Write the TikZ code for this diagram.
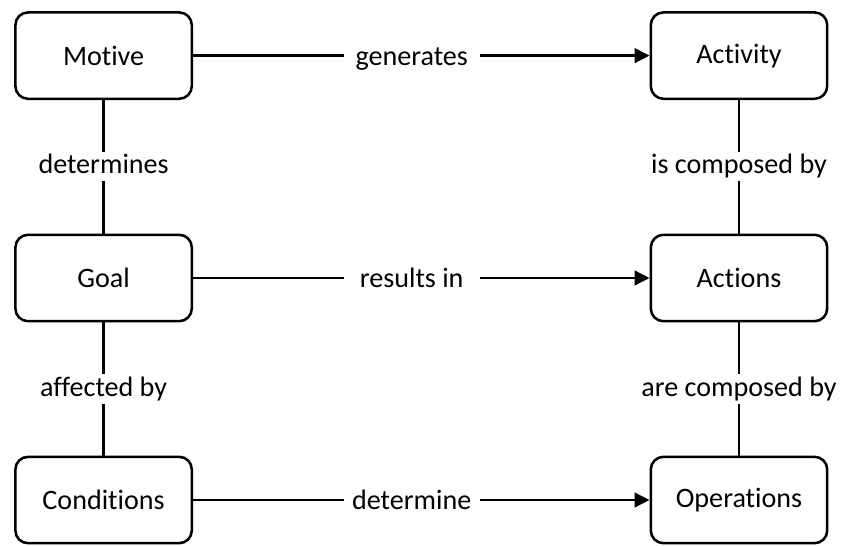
\documentclass[tikz,border=0pt]{standalone}
\usepackage{fontspec}
\setmainfont[Ligatures={NoCommon}]{Carlito}
\usepackage{xcolor}
\usepackage{tikz}
\usetikzlibrary{arrows.meta}
\definecolor{ink}{HTML}{000000}
\definecolor{paper}{HTML}{FFFFFF}
\tikzset{
  concept/.style={
    draw=ink, fill=paper, text=ink,
    line width=1.8pt,
    rounded corners=9pt,
    minimum width=4.41cm,
    minimum height=2.16cm,
    font=\fontsize{20}{24}\selectfont
  },
  link/.style={draw=ink, line width=1.8pt},
  flow/.style={link, -{Triangle[length=0.37cm, width=0.36cm]}},
  tag/.style={
    font=\fontsize{20}{24}\selectfont,
    text=ink,
    fill=paper,
    inner xsep=0pt,
    inner ysep=0.05cm,
    text height=14pt,
    text depth=4pt
  },
  htag/.style={tag, minimum width=3.4cm, pos=0.479, text height=17pt, text depth=3pt},
  vtag/.style={tag, inner xsep=2pt}
}
\begin{document}
\begin{tikzpicture}

  \useasboundingbox[fill=paper] (0,0) rectangle (21.025,-13.625);

  % left column
  \node[concept] (motive)     at (2.59,-1.39)  {Motive};
  \node[concept] (goal)       at (2.59,-6.95)  {Goal};
  \node[concept] (conditions) at (2.59,-12.5)  {Conditions};

  % right column
  \node[concept] (activity)   at (18.475,-1.39) {Activity};
  \node[concept] (actions)    at (18.475,-6.95) {Actions};
  \node[concept] (operations) at (18.475,-12.5) {Operations};

  % across
  \draw[flow] (motive) -- node[htag] {generates} (activity);
  \draw[flow] (goal) -- node[htag] {results in} (actions);
  \draw[flow] (conditions) -- node[htag] {determine} (operations);

  % down the sides
  \draw[link] (motive) -- node[vtag] {determines} (goal);
  \draw[link] (goal) -- node[vtag] {affected by} (conditions);
  \draw[link] (activity) -- node[vtag] {is composed by} (actions);
  \draw[link] (actions) -- node[vtag] {are composed by} (operations);
\end{tikzpicture}
\end{document}
